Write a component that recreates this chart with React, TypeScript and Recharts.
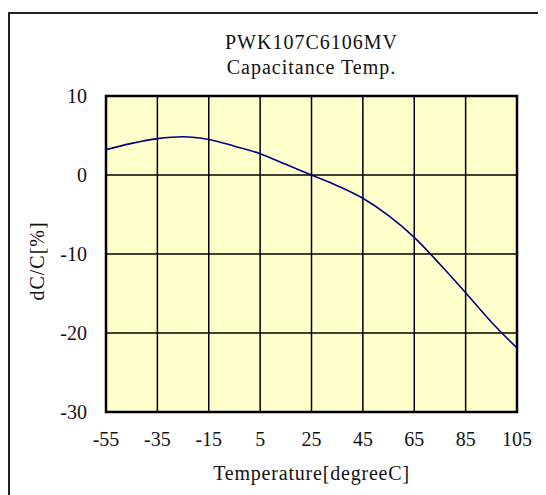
import React from 'react'
import {
  LineChart,
  Line,
  XAxis,
  YAxis,
  CartesianGrid,
  ReferenceArea,
} from 'recharts'

const temps = [-55, -45, -35, -25, -15, -5, 5, 15, 25, 35, 45, 55, 65, 75, 85, 95, 105]
const dcValues = [3.2, 4.0, 4.6, 4.85, 4.5, 3.65, 2.7, 1.35, 0, -1.35, -2.95, -5.15, -7.9, -11.3, -14.9, -18.6, -21.9]
const xTicks = [-55, -35, -15, 5, 25, 45, 65, 85, 105]
const yTicks = [-30, -20, -10, 0, 10]
const titleLines = ['PWK107C6106MV', 'Capacitance Temp.']
const xLabel = 'Temperature[degreeC]'
const yLabel = 'dC/C[%]'

const data = temps.map((t, i) => ({ temp: t, dc: dcValues[i] }))

const FONT = '"Liberation Serif", "Times New Roman", serif'

// axis titles drawn by hand so the anchor can be centred
const XTitle = ({ viewBox }: any) => (
  <text
    x={viewBox.x + viewBox.width / 2}
    y={viewBox.y + 68}
    textAnchor="middle"
    fill="#111"
    fontSize={20}
    style={{ letterSpacing: 0.8 }}
  >
    {xLabel}
  </text>
)

const YTitle = ({ viewBox }: any) => {
  const cx = 34
  const cy = viewBox.y + viewBox.height / 2 + 7
  return (
    <text
      x={cx}
      y={cy}
      transform={`rotate(-90 ${cx} ${cy})`}
      textAnchor="middle"
      fill="#111"
      fontSize={20}
      style={{ letterSpacing: 1 }}
    >
      {yLabel}
    </text>
  )
}

export default function App() {
  return (
    <div
      style={{
        position: 'relative',
        marginTop: 4,
        width: 536,
        height: 481,
        borderLeft: '2px solid #222',
        borderTop: '2px solid #222',
        fontFamily: FONT,
        overflow: 'hidden',
      }}
    >
      <div
        style={{
          position: 'absolute',
          left: 96,
          width: 411,
          top: 16,
          textAlign: 'center',
          fontSize: 20,
          lineHeight: '24.5px',
          color: '#111',
          letterSpacing: 1,
        }}
      >
        {titleLines.map((l) => (
          <div key={l}>{l}</div>
        ))}
      </div>
      <LineChart
        width={536}
        height={481}
        data={data}
        margin={{ top: 82, right: 29, bottom: 0, left: 0 }}
        style={{ fontFamily: FONT }}
      >
        <CartesianGrid stroke="#000" strokeWidth={1.5} fill="#FFFFCC" fillOpacity={1} />
        <XAxis
          dataKey="temp"
          type="number"
          domain={[-55, 105]}
          ticks={xTicks}
          interval={0}
          height={83}
          tickSize={0}
          tickMargin={20}
          axisLine={false}
          tick={{ fill: '#111', fontSize: 20 }}
          label={{ content: XTitle }}
        />
        <YAxis
          type="number"
          domain={[-30, 10]}
          ticks={yTicks}
          interval={0}
          width={96}
          tickSize={0}
          tickMargin={19}
          axisLine={false}
          tick={{ fill: '#111', fontSize: 20 }}
          label={{ content: YTitle }}
        />
        <ReferenceArea
          x1={-55}
          x2={105}
          y1={-30}
          y2={10}
          fill="none"
          fillOpacity={0}
          stroke="#000"
          strokeWidth={2.5}
        />
        <Line
          type="monotone"
          dataKey="dc"
          stroke="#000080"
          strokeWidth={1.6}
          dot={false}
          isAnimationActive={false}
        />
      </LineChart>
    </div>
  )
}
